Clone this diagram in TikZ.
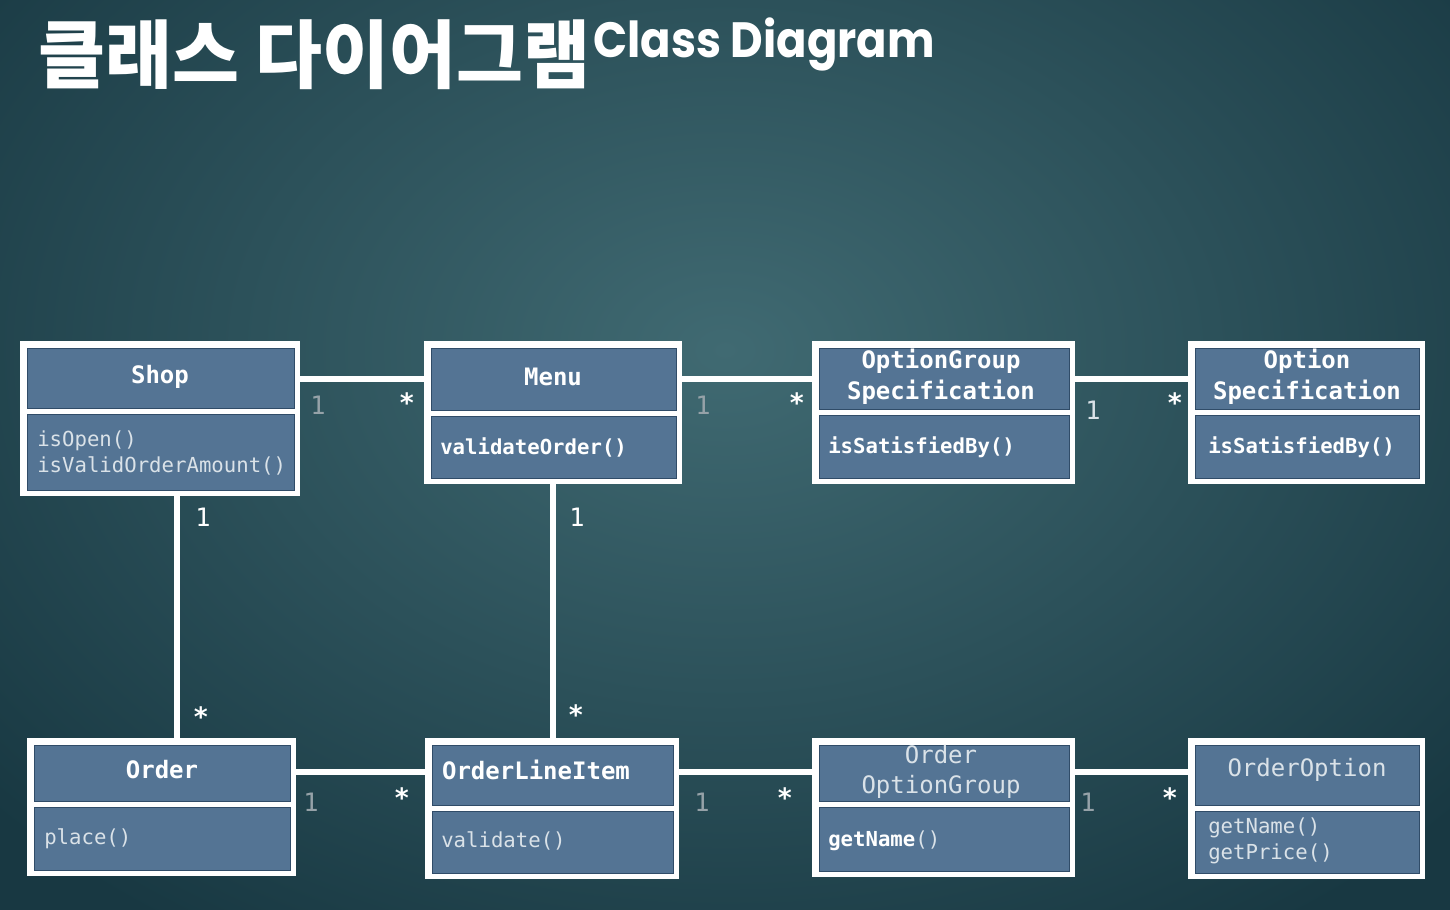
\documentclass[tikz,border=0pt]{standalone}
\usepackage{fontspec}
\usepackage{graphicx}
\newfontfamily\cjk{Noto Sans CJK KR}
\newfontfamily\titlefont{Poppins}
\setmonofont{DejaVu Sans Mono}
\usetikzlibrary{
  calc,       % 좌표 계산
  fit,        % 클래스 상자 이름 붙이기
  positioning % 노드 상대 위치
}

\definecolor{bgdark}{RGB}{24,56,66}
\definecolor{bglight}{RGB}{64,106,114}
\definecolor{hdblue}{RGB}{84,116,148}
\definecolor{edgeblue}{RGB}{48,76,104}
\definecolor{mulgray}{RGB}{150,162,168}
\definecolor{methgray}{RGB}{218,226,232}

% 클래스 상자: 이름, 왼쪽, 위, 오른쪽, 아래, 구분선 y
\newcommand{\umlclass}[6]{%
  \fill[white] (#2,#3) rectangle (#4,#5);
  \filldraw[fill=hdblue, draw=edgeblue, line width=0.6pt] (#2+7,#3+7) rectangle (#4-6,#6-3);
  \filldraw[fill=hdblue, draw=edgeblue, line width=0.6pt] (#2+7,#6+3) rectangle (#4-6,#5-6);
  \node[inner sep=0, fit={(#2,#3) (#4,#5)}] (#1) {};
}

\begin{document}
\begin{tikzpicture}[x=0.75pt, y=-0.75pt,
  assoc/.style={draw=white, line width=4.5pt},
  clsname/.style={text=white, font=\fontsize{18}{23}\selectfont\ttfamily\bfseries, align=center, inner sep=0},
  clsthin/.style={clsname, text=methgray, font=\fontsize{18}{23}\selectfont\ttfamily},
  method/.style={text=methgray, font=\fontsize{15.5}{19}\selectfont\ttfamily, align=left, inner sep=0, anchor=west},
  methodb/.style={method, text=white, font=\fontsize{15.5}{19}\selectfont\ttfamily\bfseries},
  one/.style={text=mulgray, font=\fontsize{19}{19}\selectfont\ttfamily, inner sep=0},
  many/.style={text=white, font=\fontsize{20}{20}\selectfont\ttfamily\bfseries, inner sep=0}]

  % 배경
  \useasboundingbox (0,0) rectangle (1450,910);
  \begin{scope}
    \clip (0,0) rectangle (1450,910);
    \shade[inner color=bglight, outer color=bgdark] (-250,-350) rectangle (1700,1050);
  \end{scope}

  % 제목
  \node[anchor=west, inner sep=0, text=white] (title) at (38,55)
    {\resizebox*{414pt}{52.5pt}{\cjk\bfseries 클래스 다이어그램}};
  \node[inner sep=0, text=white] (subtitle) at (764,44)
    {\resizebox*{256pt}{40pt}{\titlefont\bfseries Class Diagram}};

  % 클래스 상자
  \umlclass{shop}{20}{341}{300}{496}{411}
  \umlclass{menu}{424}{341}{682}{484}{413}
  \umlclass{ogspec}{812}{341}{1075}{484}{412}
  \umlclass{ospec}{1188}{341}{1425}{484}{412}
  \umlclass{order}{27}{738}{296}{876}{804}
  \umlclass{oli}{425}{738}{679}{879}{808}
  \umlclass{oog}{812}{738}{1075}{877}{804}
  \umlclass{oopt}{1188}{738}{1425}{879}{808}

  % 클래스 이름
  \node[clsname] (shop-n) at (160,377) {Shop};
  \node[clsname] (menu-n) at (553,377) {Menu};
  \node[clsname] (ogspec-n) at (941,377) {OptionGroup\\Specification};
  \node[clsname] (ospec-n) at (1307,377) {Option\\Specification};
  \node[clsname] (order-n) at (162,770) {Order};
  \node[clsname] (oli-n) at (536,770) {OrderLineItem};
  \node[clsthin] (oog-n) at (941,772) {Order\\OptionGroup};
  \node[clsthin] (oopt-n) at (1307,770) {OrderOption};

  % 메서드
  \node[method] (shop-m) at (37,453) {isOpen()\\isValidOrderAmount()};
  \node[methodb] (menu-m) at (440,447) {validateOrder()};
  \node[methodb] (ogspec-m) at (828,447) {isSatisfiedBy()};
  \node[methodb] (ospec-m) at (1208,447) {isSatisfiedBy()};
  \node[method] (order-m) at (44,839) {place()};
  \node[method] (oli-m) at (441,841) {validate()};
  \node[method] (oog-m) at (828,841) {\textbf{\color{white}getName}()};
  \node[method] (oopt-m) at (1208,841) {getName()\\getPrice()};

  % 연관 관계
  \draw[assoc] ([yshift=-28.5pt]shop.north east) -- ([yshift=-28.5pt]menu.north west);
  \draw[assoc] ([yshift=-28.5pt]menu.north east) -- ([yshift=-28.5pt]ogspec.north west);
  \draw[assoc] ([yshift=-28.5pt]ogspec.north east) -- ([yshift=-28.5pt]ospec.north west);
  \draw[assoc] ([yshift=-25.5pt]order.north east) -- ([yshift=-25.5pt]oli.north west);
  \draw[assoc] ([yshift=-25.5pt]oli.north east) -- ([yshift=-25.5pt]oog.north west);
  \draw[assoc] ([yshift=-25.5pt]oog.north east) -- ([yshift=-25.5pt]oopt.north west);
  \path ([xshift=12.75pt]shop.south) coordinate (shopdown);
  \draw[assoc] (shopdown) -- (shopdown |- order.north);
  \draw[assoc] (menu.south) -- (menu.south |- oli.north);

  % 다중성
  \node[one]  (m1) at (318,405) {1};
  \node[many] (m2) at (407,403) {*};
  \node[one]  (m3) at (703,405) {1};
  \node[many] (m4) at (797,403) {*};
  \node[one, text=methgray] (m5) at (1093,410) {1};
  \node[many] (m6) at (1175,403) {*};
  \node[one, text=white] (m7) at (203,517) {1};
  \node[many] (m8) at (201,717) {*};
  \node[one, text=white] (m9) at (577,517) {1};
  \node[many] (m10) at (576,715) {*};
  \node[one]  (m11) at (311,802) {1};
  \node[many] (m12) at (402,798) {*};
  \node[one]  (m13) at (702,802) {1};
  \node[many] (m14) at (785,798) {*};
  \node[one]  (m15) at (1088,802) {1};
  \node[many] (m16) at (1170,798) {*};
\end{tikzpicture}
\end{document}
